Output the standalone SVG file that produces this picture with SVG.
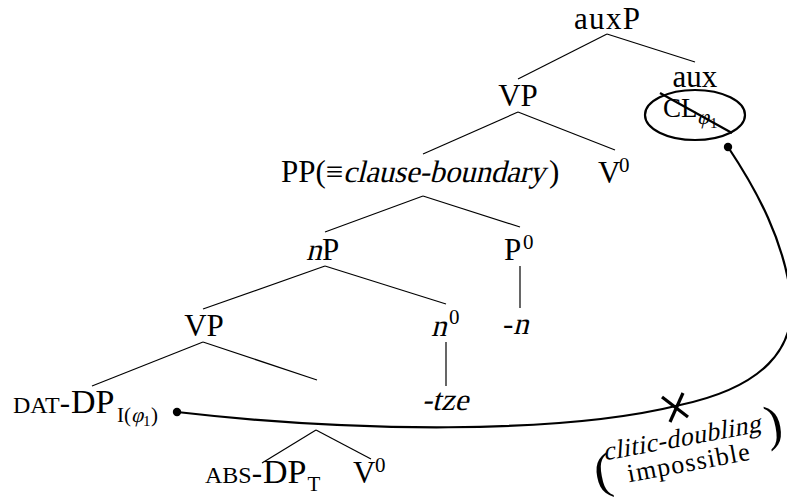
<svg xmlns="http://www.w3.org/2000/svg" width="787" height="500" viewBox="0 0 787 500">
<style>
text{font-family:"Liberation Serif","Times New Roman",serif;font-size:31px;fill:#000}
.sc{font-size:24px}
.sup{font-size:21px}
.sub{font-size:21px}
.sub2{font-size:15px}
.cl{font-size:27px}
.note{font-size:26px}
.paren{font-size:50px}
.edge{stroke:#000;stroke-width:1.2;fill:none}
.thick{stroke:#000;stroke-width:2.2;fill:none}
</style>
<rect width="787" height="500" fill="#fff"/>
<g id="connectors">
<line class="edge" x1="607" y1="34" x2="518" y2="79"/>
<line class="edge" x1="607" y1="34" x2="695" y2="62"/>
<line class="edge" x1="518" y1="112" x2="423" y2="154"/>
<line class="edge" x1="518" y1="112" x2="615" y2="150"/>
<line class="edge" x1="423" y1="196" x2="325" y2="232"/>
<line class="edge" x1="423" y1="196" x2="520" y2="227"/>
<line class="edge" x1="325" y1="266" x2="203" y2="309"/>
<line class="edge" x1="325" y1="266" x2="446" y2="304"/>
<line class="edge" x1="520" y1="266" x2="520" y2="308"/>
<line class="edge" x1="203" y1="342" x2="92" y2="386"/>
<line class="edge" x1="203" y1="342" x2="317" y2="380"/>
<line class="edge" x1="446" y1="342" x2="446" y2="386"/>
<line class="edge" x1="316" y1="430" x2="262" y2="463"/>
<line class="edge" x1="316" y1="430" x2="371" y2="459"/>
<path class="thick" d="M177,412 C350,432 560,435 680,405 C760,388 800,350 790,290 C782,240 760,195 728,147"/>
<circle cx="177" cy="412" r="4.2" fill="#000"/>
<circle cx="728" cy="147" r="4.2" fill="#000"/>
<g id="blocked-mark">
<line x1="662" y1="397" x2="688" y2="417" stroke="#000" stroke-width="3.2"/>
<line x1="683" y1="393" x2="670" y2="422" stroke="#000" stroke-width="3.2"/>
</g>
</g>
<g id="auxP"><text x="607" y="29" text-anchor="middle" textLength="66">auxP</text></g>
<g id="VP1"><text x="518" y="106" text-anchor="middle">VP</text></g>
<g id="aux">
<text x="695" y="87" text-anchor="middle">aux</text>
<ellipse cx="695" cy="115" rx="50" ry="25" class="thick"/>
<text x="663" y="117" class="cl">CL</text>
<text transform="translate(697,124) skewX(-14)" class="sub">φ</text>
<text x="710" y="128" class="sub2">1</text>
<line x1="660" y1="93" x2="732" y2="133" class="thick"/>
</g>
<g id="PP">
<text x="281" y="182">PP(≡</text>
<text transform="translate(343,182) skewX(-14)" textLength="202">clause-boundary</text>
<text x="549" y="182">)</text>
</g>
<g id="V0a"><text x="598" y="183">V</text><text x="619" y="172" class="sup">0</text></g>
<g id="nP"><text transform="translate(306,260) skewX(-14)">n</text><text x="322" y="260">P</text></g>
<g id="P0"><text x="504" y="260">P</text><text x="523" y="249" class="sup">0</text></g>
<g id="VP2"><text x="204" y="336" text-anchor="middle">VP</text></g>
<g id="n0"><text transform="translate(431,336) skewX(-14)">n</text><text x="449" y="324" class="sup">0</text></g>
<g id="n-morph"><text x="503" y="334">-</text><text transform="translate(513,334) skewX(-14)">n</text></g>
<g id="tze"><text transform="translate(445,410) skewX(-14)" text-anchor="middle">-tze</text></g>
<g id="DAT-DP">
<text x="13" y="413"><tspan class="sc">DAT</tspan>-<tspan dx="1" style="font-size:34px">DP</tspan></text>
<text x="117" y="422" class="sub">I(</text>
<text transform="translate(131,422) skewX(-14)" class="sub">φ</text>
<text x="143" y="426" class="sub2">1</text>
<text x="151" y="422" class="sub">)</text>
</g>
<g id="ABS-DP">
<text x="205" y="483"><tspan class="sc">ABS</tspan>-<tspan dx="1" style="font-size:34px">DP</tspan><tspan class="sub" dx="1" dy="8">T</tspan></text>
</g>
<g id="V0b"><text x="353" y="483">V</text><text x="375" y="472" class="sup">0</text></g>
<g id="note">
<text transform="translate(683,446) rotate(-10.5) skewX(-14)" text-anchor="middle" class="note" textLength="160">clitic-doubling</text>
<text transform="translate(690,471) rotate(-10.5)" text-anchor="middle" class="note" textLength="124">impossible</text>
<text transform="translate(603,474) rotate(-10.5)" x="0" y="14" text-anchor="middle" class="paren">(</text>
<text transform="translate(774,426) rotate(-10.5)" x="0" y="14" text-anchor="middle" class="paren">)</text>
</g>
</svg>
